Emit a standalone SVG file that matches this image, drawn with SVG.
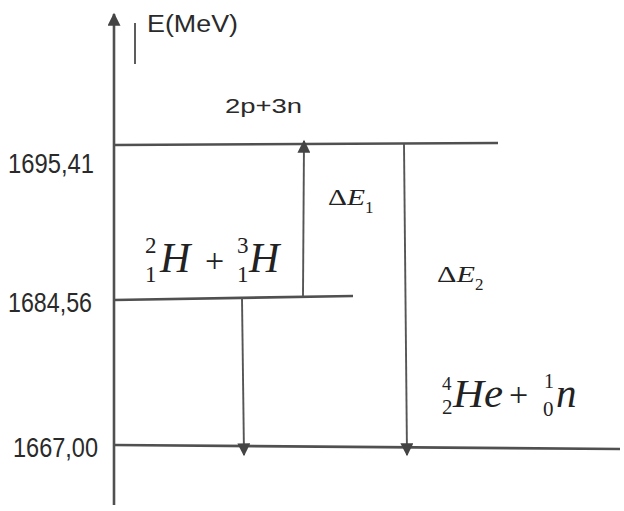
<svg xmlns="http://www.w3.org/2000/svg" width="624" height="511" viewBox="0 0 624 511">
<style>
.ln{stroke:#505050;stroke-width:2.6;fill:none}
.ar{stroke:#555;stroke-width:1.9;fill:none}
.lbl{font-family:"Liberation Sans","DejaVu Sans",sans-serif;fill:#2a2a2a}
.it{font-family:"Liberation Serif","DejaVu Serif",serif;fill:#222;font-style:italic}
.rm{font-family:"Liberation Serif","DejaVu Serif",serif;fill:#222}
</style>
<defs>
<marker id="ah" viewBox="0 0 10 10" refX="9" refY="5" markerWidth="15" markerHeight="13" orient="auto" markerUnits="userSpaceOnUse">
<path d="M0,0 L10,5 L0,10 z" fill="#444"/>
</marker>
<marker id="ahx" viewBox="0 0 10 10" refX="9" refY="5" markerWidth="16" markerHeight="13" orient="auto" markerUnits="userSpaceOnUse">
<path d="M0,0 L10,5 L0,10 z" fill="#444"/>
</marker>
</defs>
<rect width="624" height="511" fill="#fff"/>
<g id="axis">
<line class="ln" x1="114" y1="505" x2="114" y2="14" marker-end="url(#ahx)"/>
<line class="ar" x1="135" y1="23" x2="135" y2="64" stroke-width="1.5"/>
<text class="lbl" x="147" y="32" font-size="23" textLength="91" lengthAdjust="spacingAndGlyphs">E(MeV)</text>
</g>
<g id="level-top">
<line class="ln" x1="114" y1="145" x2="498" y2="143"/>
<text class="lbl" x="225" y="113" font-size="20" textLength="77" lengthAdjust="spacingAndGlyphs">2p+3n</text>
<text class="lbl" x="8" y="173" font-size="28" textLength="86" lengthAdjust="spacingAndGlyphs">1695,41</text>
</g>
<g id="level-mid">
<line class="ln" x1="114" y1="300" x2="353" y2="296"/>
<text class="lbl" x="8" y="312" font-size="28" textLength="84" lengthAdjust="spacingAndGlyphs">1684,56</text>
<text class="rm" x="145" y="253" font-size="23">2</text>
<text class="rm" x="145" y="282" font-size="23">1</text>
<text class="it" x="160" y="272" font-size="42">H</text>
<text class="rm" x="205" y="272" font-size="34">+</text>
<text class="rm" x="237" y="253" font-size="23">3</text>
<text class="rm" x="237" y="282" font-size="23">1</text>
<text class="it" x="249" y="272" font-size="42">H</text>
</g>
<g id="level-bottom">
<line class="ln" x1="114" y1="445" x2="620" y2="449"/>
<text class="lbl" x="13" y="457" font-size="28" textLength="85" lengthAdjust="spacingAndGlyphs">1667,00</text>
<text class="rm" x="442" y="390" font-size="19">4</text>
<text class="rm" x="442" y="414" font-size="21">2</text>
<text class="it" x="453" y="407" font-size="41" textLength="50" lengthAdjust="spacingAndGlyphs">He</text>
<text class="rm" x="509" y="406" font-size="34">+</text>
<text class="rm" x="544" y="388" font-size="20">1</text>
<text class="rm" x="543" y="416" font-size="21">0</text>
<text class="it" x="556" y="407" font-size="41">n</text>
</g>
<g id="connectors">
<line class="ar" x1="303" y1="296" x2="304" y2="141" marker-end="url(#ah)"/>
<line class="ar" x1="404" y1="144" x2="407" y2="455" marker-end="url(#ahx)"/>
<line class="ar" x1="242" y1="298" x2="244" y2="455" marker-end="url(#ahx)"/>
</g>
<g id="labels">
<text class="rm" x="328" y="205" font-size="23"><tspan textLength="37" lengthAdjust="spacingAndGlyphs">Δ<tspan class="it">E</tspan></tspan><tspan font-size="17" dy="8">1</tspan></text>
<text class="rm" x="437" y="282" font-size="23"><tspan textLength="38" lengthAdjust="spacingAndGlyphs">Δ<tspan class="it">E</tspan></tspan><tspan font-size="17" dy="8">2</tspan></text>
</g>
</svg>
